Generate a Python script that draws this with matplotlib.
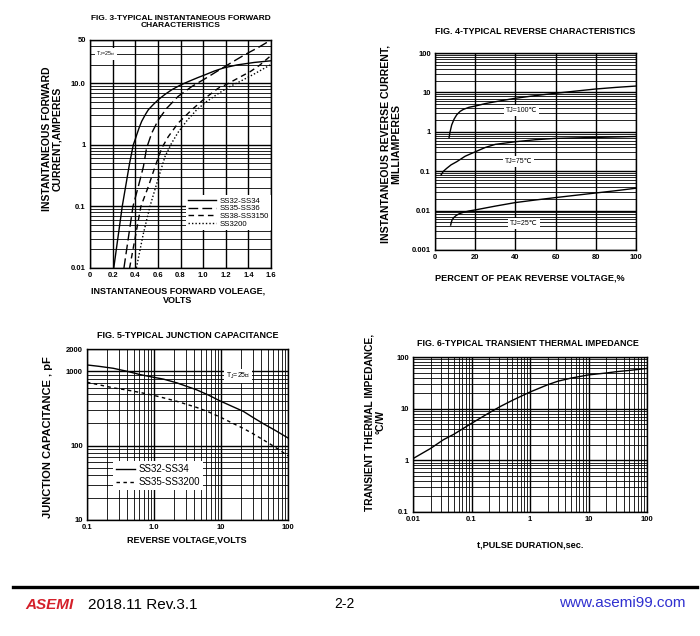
import matplotlib
matplotlib.use('Agg')
import matplotlib.pyplot as plt
from matplotlib.ticker import LogLocator, NullFormatter, NullLocator

plt.rcParams['font.family'] = ['Liberation Sans', 'DejaVu Sans']

W, H = 700, 636

# ---- FIG. 3 forward characteristics (V, A)
f3_ss32_v = [0.21, 0.285, 0.35, 0.383, 0.40, 0.413, 0.435, 0.457, 0.49, 0.516, 0.56, 0.605,
             0.66, 0.723, 0.80, 0.87, 0.95, 1.02, 1.10, 1.18, 1.30, 1.45, 1.60]
f3_ss32_i = [0.01, 0.1, 0.5, 1.0, 1.22, 1.45, 1.9, 2.4, 3.1, 3.7, 4.5, 5.4,
             6.5, 7.8, 9.3, 10.6, 12.2, 13.7, 15.7, 17.6, 19.7, 21.6, 23.0]
f3_ss35_v = [0.30, 0.38, 0.427, 0.472, 0.50, 0.546, 0.605, 0.678, 0.78, 0.90, 1.018, 1.135,
             1.25, 1.37, 1.49, 1.60]
f3_ss35_i = [0.01, 0.1, 0.21, 0.44, 0.88, 1.55, 2.55, 3.9, 6.1, 8.8, 11.8, 16.0,
             21.5, 29.0, 38.0, 50.0]
f3_ss38_v = [0.35, 0.45, 0.516, 0.575, 0.634, 0.693, 0.78, 0.90, 1.018, 1.135, 1.21, 1.30,
             1.42, 1.50, 1.60]
f3_ss38_i = [0.01, 0.1, 0.21, 0.44, 0.88, 1.36, 2.25, 3.7, 5.7, 8.3, 9.6, 11.8,
             15.5, 19.5, 28.0]
f3_ss3200_v = [0.41, 0.47, 0.53, 0.60, 0.664, 0.72, 0.78, 0.86, 0.944, 1.03, 1.12, 1.22,
               1.33, 1.45, 1.60]
f3_ss3200_i = [0.01, 0.035, 0.1, 0.27, 0.65, 1.05, 1.6, 2.5, 3.7, 5.0, 6.5, 8.5,
               10.7, 14.0, 20.0]
f3_xticks = [0, 0.2, 0.4, 0.6, 0.8, 1.0, 1.2, 1.4, 1.6]
f3_xlabels = ['0', '0.2', '0.4', '0.6', '0.8', '1.0', '1.2', '1.4', '1.6']
f3_yticks = [0.01, 0.1, 1, 10, 50]
f3_ylabels = ['0.01', '0.1', '1', '10.0', '50']

# ---- FIG. 4 reverse characteristics (% of VRRM, mA)
f4_100_x = [7.0, 7.5, 8.3, 9.5, 10.8, 12.5, 14.1, 17, 20, 25, 30, 40, 50, 60, 70, 80, 90, 100]
f4_100_y = [0.71, 1.0, 1.49, 2.1, 2.7, 3.3, 3.7, 4.2, 4.5, 5.2, 5.8, 7.1, 8.3, 9.5, 10.8, 12.2, 13.4, 14.5]
f4_75_x = [3.0, 4.2, 5.8, 8, 10.8, 15, 20, 25, 30, 40, 50, 60, 70, 80, 90, 100]
f4_75_y = [0.08, 0.10, 0.118, 0.145, 0.174, 0.24, 0.31, 0.40, 0.48, 0.56, 0.63, 0.68, 0.70, 0.72, 0.74, 0.76]
f4_25_x = [7.8, 8.1, 8.5, 9.4, 10.5, 12, 14, 17, 20, 30, 40, 50, 60, 70, 80, 90, 100]
f4_25_y = [0.0043, 0.0050, 0.0058, 0.0067, 0.0075, 0.0083, 0.0090, 0.0098, 0.0104, 0.013, 0.016,
           0.0186, 0.0214, 0.0245, 0.028, 0.032, 0.037]
f4_xticks = [0, 20, 40, 60, 80, 100]
f4_yticks = [0.001, 0.01, 0.1, 1, 10, 100]
f4_ylabels = ['0.001', '0.01', '0.1', '1', '10', '100']

# ---- FIG. 5 junction capacitance (V, pF)
f5_v = [0.1, 0.15, 0.247, 0.4, 0.62, 1.0, 1.38, 2.2, 4.3, 6.5, 9.7, 15, 21.5, 30, 42.7, 65, 100]
f5_ss32 = [1220, 1170, 1100, 1000, 905, 830, 787, 700, 566, 480, 400, 335, 290, 240, 198, 160, 127]
f5_ss35 = [713, 660, 600, 560, 520, 475, 441, 395, 328, 285, 243, 200, 171, 145, 120, 95, 73]
f5_xticks = [0.1, 1, 10, 100]
f5_xlabels = ['0.1', '1.0', '10', '100']
f5_yticks = [10, 100, 1000, 2000]
f5_ylabels = ['10', '100', '1000', '2000']

# ---- FIG. 6 transient thermal impedance (s, C/W)
f6_t = [0.01, 0.02, 0.033, 0.05, 0.1, 0.2, 0.31, 0.5, 1, 2, 3, 5, 10, 20, 30, 50, 100]
f6_z = [1.08, 1.7, 2.5, 3.2, 5.2, 8.3, 11, 14.5, 21, 29, 34, 39, 45, 49, 52, 55, 60]
f6_xticks = [0.01, 0.1, 1, 10, 100]
f6_xlabels = ['0.01', '0.1', '1', '10', '100']
f6_yticks = [0.1, 1, 10, 100]
f6_ylabels = ['0.1', '1', '10', '100']


def box(l, t, r, b):
    return [l / W, 1 - b / H, (r - l) / W, (b - t) / H]


def ftext(x, y, s, **kw):
    kw.setdefault('ha', 'center')
    kw.setdefault('va', 'center')
    fig.text(x / W, 1 - y / H, s, **kw)


def style(ax, logx=False):
    for sp in ax.spines.values():
        sp.set_linewidth(1.0)
        sp.set_color('black')
    ax.tick_params(which='both', length=0, labelsize=5.5, pad=3)
    for lab in ax.get_xticklabels() + ax.get_yticklabels():
        lab.set_fontweight('bold')
    ax.grid(which='major', color='black', lw=1.0)
    ax.grid(which='minor', color='black', lw=0.6)
    ax.yaxis.set_minor_locator(LogLocator(subs=range(2, 10)))
    ax.yaxis.set_minor_formatter(NullFormatter())
    if logx:
        ax.xaxis.set_minor_locator(LogLocator(subs=range(2, 10)))
        ax.xaxis.set_minor_formatter(NullFormatter())
    else:
        ax.xaxis.set_minor_locator(NullLocator())
    ax.set_axisbelow(True)


fig = plt.figure(figsize=(7, 6.36), dpi=100)

# FIG 3
ax3 = fig.add_axes(box(90, 40, 271, 268))
ax3.set_yscale('log')
ax3.plot(f3_ss32_v, f3_ss32_i, color='black', lw=1.0, label='SS32-SS34')
ax3.plot(f3_ss35_v, f3_ss35_i, color='black', lw=1.0, ls=(0, (7, 3)), label='SS35-SS36')
ax3.plot(f3_ss38_v, f3_ss38_i, color='black', lw=1.0, ls=(0, (4, 3)), label='SS38-SS3150')
ax3.plot(f3_ss3200_v, f3_ss3200_i, color='black', lw=1.0, ls=(0, (1, 1.5)), label='SS3200')
ax3.set_xlim(0, 1.6)
ax3.set_ylim(0.01, 50)
ax3.set_xticks(f3_xticks, f3_xlabels)
ax3.set_yticks(f3_yticks, f3_ylabels)
style(ax3)
ax3.text(0.14, 30, 'T$_\\mathregular{J}$=25℃', fontsize=3.8, ha='center', va='center',
         bbox=dict(facecolor='white', edgecolor='none', pad=1.2))
leg = ax3.legend(loc='lower right', bbox_to_anchor=(1.0, 0.165), borderaxespad=0,
                 fontsize=5.6, handlelength=3.6, handletextpad=0.4, labelspacing=0.05,
                 borderpad=0.3, frameon=True, fancybox=False, framealpha=1)
leg.get_frame().set_edgecolor('none')
ftext(181, 22, 'FIG. 3-TYPICAL INSTANTANEOUS FORWARD\nCHARACTERISTICS', fontsize=6,
      fontweight='bold', linespacing=1.1)
ftext(52, 139, 'INSTANTANEOUS FORWARD\nCURRENT,AMPERES', fontsize=7.5, fontweight='bold',
      rotation=90, linespacing=1.0)
ftext(178, 296, 'INSTANTANEOUS FORWARD VOLEAGE,\nVOLTS', fontsize=6.5, fontweight='bold',
      linespacing=1.1)

# FIG 4
ax4 = fig.add_axes(box(435, 53, 636, 250))
ax4.set_yscale('log')
ax4.plot(f4_100_x, f4_100_y, color='black', lw=1.0)
ax4.plot(f4_75_x, f4_75_y, color='black', lw=1.0)
ax4.plot(f4_25_x, f4_25_y, color='black', lw=1.0)
ax4.set_xlim(0, 100)
ax4.set_ylim(0.001, 100)
ax4.set_xticks(f4_xticks, [str(v) for v in f4_xticks])
ax4.set_yticks(f4_yticks, f4_ylabels)
style(ax4)
for x, y, s in [(43, 3.4, 'TJ=100℃'), (41.5, 0.18, 'TJ=75℃'), (44.3, 0.0048, 'TJ=25℃')]:
    ax4.text(x, y, s, fontsize=5, ha='center', va='center',
             bbox=dict(facecolor='white', edgecolor='none', pad=1.5))
ftext(535, 32, 'FIG. 4-TYPICAL REVERSE CHARACTERISTICS', fontsize=6.5, fontweight='bold')
ftext(391, 144, 'INSTANTANEOUS REVERSE CURRENT,\nMILLIAMPERES', fontsize=7.6,
      fontweight='bold', rotation=90, linespacing=1.0)
ftext(530, 278, 'PERCENT OF PEAK REVERSE VOLTAGE,%', fontsize=6.6, fontweight='bold')

# FIG 5
ax5 = fig.add_axes(box(87, 349, 288, 520))
ax5.set_xscale('log')
ax5.set_yscale('log')
ax5.plot(f5_v, f5_ss32, color='black', lw=1.0, label='SS32-SS34')
ax5.plot(f5_v, f5_ss35, color='black', lw=1.0, ls=(0, (2.5, 2.5)), label='SS35-SS3200')
ax5.set_xlim(0.1, 100)
ax5.set_ylim(10, 2000)
ax5.set_xticks(f5_xticks, f5_xlabels)
ax5.set_yticks(f5_yticks, f5_ylabels)
style(ax5, logx=True)
ax5.text(18, 860, 'T$_\\mathregular{J}$=25℃', fontsize=5, ha='center', va='center',
         bbox=dict(facecolor='white', edgecolor='none', pad=1.5))
leg5 = ax5.legend(loc='lower left', bbox_to_anchor=(0.13, 0.175), borderaxespad=0,
                  fontsize=7, handlelength=2.0, handletextpad=0.3, labelspacing=0.3,
                  borderpad=0.3, frameon=True, fancybox=False, framealpha=1)
leg5.get_frame().set_edgecolor('none')
ftext(188, 335, 'FIG. 5-TYPICAL JUNCTION CAPACITANCE', fontsize=6.5, fontweight='bold')
ftext(48, 437, 'JUNCTION CAPACITANCE , pF', fontsize=8, fontweight='bold', rotation=90)
ftext(187, 540, 'REVERSE VOLTAGE,VOLTS', fontsize=6.5, fontweight='bold')

# FIG 6
ax6 = fig.add_axes(box(413, 357, 647, 512))
ax6.set_xscale('log')
ax6.set_yscale('log')
ax6.plot(f6_t, f6_z, color='black', lw=1.0)
ax6.set_xlim(0.01, 100)
ax6.set_ylim(0.1, 100)
ax6.set_xticks(f6_xticks, f6_xlabels)
ax6.set_yticks(f6_yticks, f6_ylabels)
style(ax6, logx=True)
ftext(528, 343, 'FIG. 6-TYPICAL TRANSIENT THERMAL IMPEDANCE', fontsize=6.4, fontweight='bold')
ftext(375, 422, 'TRANSIENT THERMAL IMPEDANCE,\n°C/W', fontsize=7.4, fontweight='bold',
      rotation=90, linespacing=1.0)
ftext(530, 545, 't,PULSE DURATION,sec.', fontsize=6.6, fontweight='bold')

# footer
fig.add_artist(plt.Line2D([13 / W, 697 / W], [1 - 587 / H, 1 - 587 / H], color='black', lw=2.4))
ftext(25, 605, 'ASEMI', ha='left', fontsize=11, fontweight='bold', fontstyle='italic',
      color='#d4202a')
ftext(88, 605, '2018.11 Rev.3.1', ha='left', fontsize=11)
ftext(344, 604, '2-2', fontsize=10)
ftext(686, 603, 'www.asemi99.com', ha='right', fontsize=11, color='#3030d0')

fig.savefig('out.png', dpi=100)
